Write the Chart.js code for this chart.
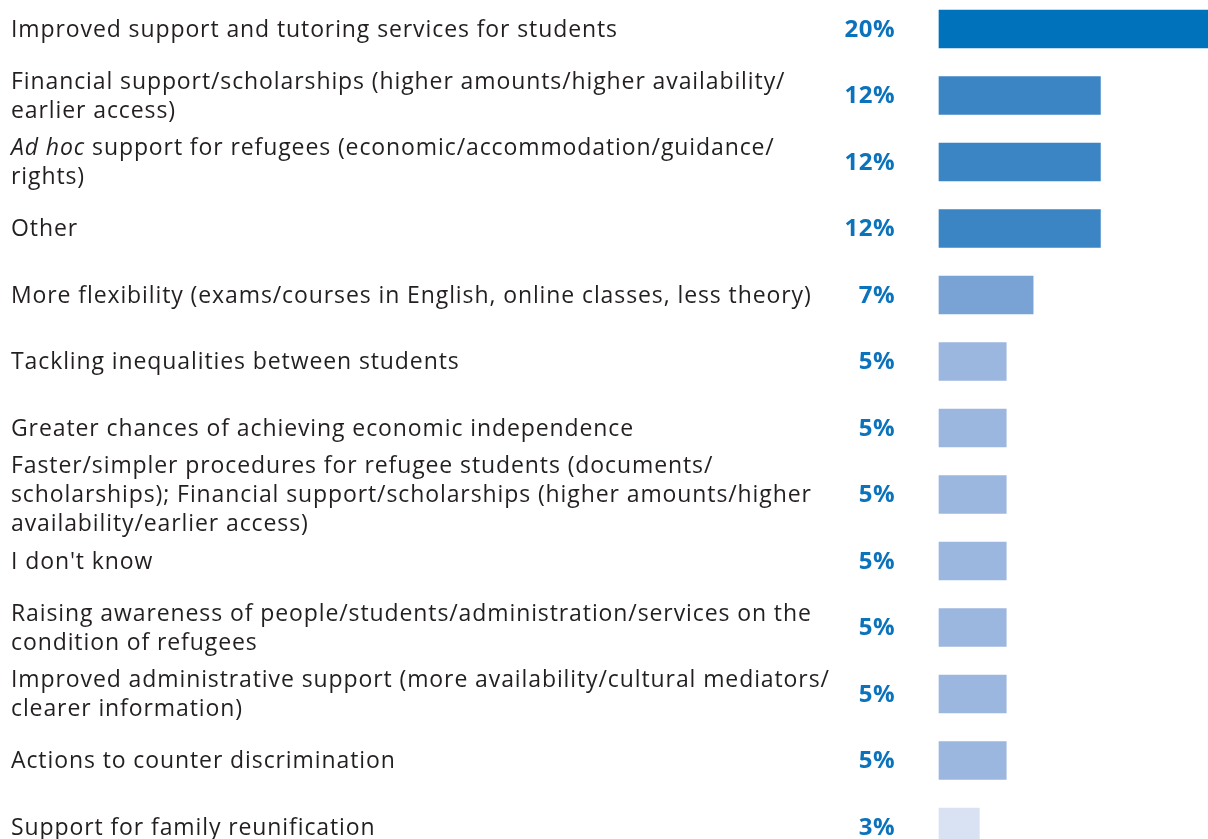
<!DOCTYPE html>
<html>
<head>
<meta charset="utf-8">
<style>
  html, body { margin: 0; padding: 0; background: #ffffff; overflow: hidden; }
  #wrap { position: relative; width: 1208px; height: 839px; }
</style>
<script src="https://cdn.jsdelivr.net/npm/chart.js@4/dist/chart.umd.min.js"></script>
</head>
<body>
<div id="wrap"><canvas id="chart" width="1208" height="839"></canvas></div>
<script>
// Survey answers: suggested improvements, share of respondents (%)
const categories = [
  ["Improved support and tutoring services for students"],
  ["Financial support/scholarships (higher amounts/higher availability/", "earlier access)"],
  ["*Ad hoc* support for refugees (economic/accommodation/guidance/", "rights)"],
  ["Other"],
  ["More flexibility (exams/courses in English, online classes, less theory)"],
  ["Tackling inequalities between students"],
  ["Greater chances of achieving economic independence"],
  ["Faster/simpler procedures for refugee students (documents/", "scholarships); Financial support/scholarships (higher amounts/higher", "availability/earlier access)"],
  ["I don't know"],
  ["Raising awareness of people/students/administration/services on the", "condition of refugees"],
  ["Improved administrative support (more availability/cultural mediators/", "clearer information)"],
  ["Actions to counter discrimination"],
  ["Support for family reunification"]
];
const shares = [20, 12, 12, 12, 7, 5, 5, 5, 5, 5, 5, 5, 3];
const valueLabels = ["20%", "12%", "12%", "12%", "7%", "5%", "5%", "5%", "5%", "5%", "5%", "5%", "3%"];

// Shade of blue by share size
function shade(v) {
  if (v >= 20) return "#0071bb";
  if (v >= 10) return "#3b85c5";
  if (v >= 7) return "#79a3d5";
  if (v >= 4) return "#9cb7df";
  return "#d9e2f3";
}

const FONT = "'Open Sans'";
const LABEL_SIZE = 23;
const LINE_H = 29;

// Draws the category texts on the left and the bold percentages beside the bars
const sideText = {
  id: "sideText",
  afterDatasetsDraw(chart) {
    const ctx = chart.ctx;
    const yScale = chart.scales.y;
    ctx.save();
    ctx.textBaseline = "middle";
    categories.forEach((lines, i) => {
      const cy = yScale.getPixelForValue(i) + 1;
      const top = cy - (lines.length - 1) * LINE_H / 2;
      lines.forEach((line, k) => {
        const y = top + k * LINE_H;
        let x = 11;
        // segments wrapped in *...* are set in italics
        const parts = line.split("*");
        parts.forEach((part, p) => {
          if (!part) return;
          ctx.font = (p % 2 ? "italic " : "") + LABEL_SIZE + "px " + FONT;
          ctx.letterSpacing = "0.9px";
          ctx.fillStyle = "#231f20";
          ctx.textAlign = "left";
          ctx.fillText(part, x, y);
          x += ctx.measureText(part).width;
        });
      });
      ctx.font = "bold 24px " + FONT;
      ctx.letterSpacing = "0.5px";
      ctx.fillStyle = "#0b72bc";
      ctx.textAlign = "right";
      ctx.fillText(valueLabels[i], 895, cy);
    });
    ctx.restore();
  }
};

new Chart(document.getElementById("chart"), {
  type: "bar",
  data: {
    labels: categories.map(l => l.join(" ").replace(/\*/g, "")),
    datasets: [{
      data: shares,
      backgroundColor: shares.map(shade),
      borderWidth: 0,
      barThickness: 38,
      clip: false
    }]
  },
  options: {
    indexAxis: "y",
    responsive: false,
    animation: false,
    layout: { padding: { left: 939, right: 0, top: 29, bottom: 12 } },
    scales: {
      x: { min: 0, max: 20, display: false },
      y: { display: false, offset: false }
    },
    plugins: { legend: { display: false }, tooltip: { enabled: false } }
  },
  plugins: [sideText]
});
</script>
</body>
</html>
